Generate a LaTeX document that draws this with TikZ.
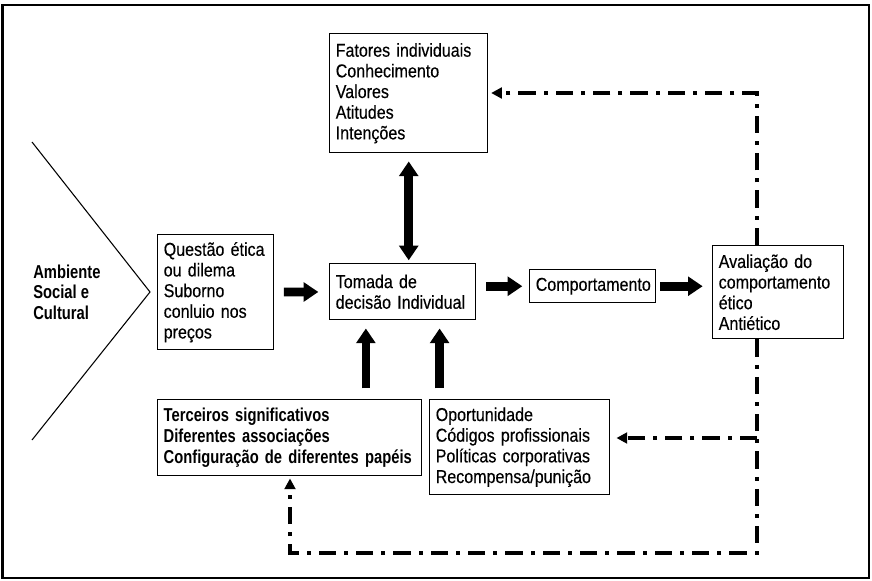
\documentclass[tikz,border=0pt]{standalone}
\usepackage{fontspec}
\setmainfont{Liberation Sans}[FakeStretch=0.86,FakeBold=0.3,BoldFeatures={FakeStretch=0.79,FakeBold=0}]
\usetikzlibrary{arrows.meta,calc}
\hyphenpenalty=10000

\tikzset{
  caixa/.style={draw, line width=1.1pt, anchor=north west, align=left, inner xsep=4.5pt, inner ysep=2pt,
    font=\fontsize{14}{15.5}\selectfont},
  setagrossa/.style={line width=6.5pt, -{Triangle[length=11pt,width=14pt]}},
  setadupla/.style={line width=6.5pt, {Triangle[length=11pt,width=14pt]}-{Triangle[length=11pt,width=14pt]}},
  tracoponto/.style={line width=2.6pt, dash pattern=on 13pt off 6pt on 3pt off 6pt, -{Triangle[length=8pt,width=8pt]}},
}

\begin{document}
\begin{tikzpicture}[x=0.75pt,y=-0.75pt]
\useasboundingbox (0,0) rectangle (872,581);
\draw[line width=2.2pt] (2.5,5) rectangle (869,578);
% ambiente
\draw[line width=0.8pt] (32,142) -- (150,292) -- (32,440);
\node[anchor=west, align=left, inner sep=0pt, font=\fontsize{14}{15.5}\selectfont\bfseries] (ambiente) at (33,292) {Ambiente\\Social e\\Cultural};
% caixas
\node[caixa, text width=109.5pt, minimum height=89.25pt] (fatores) at (329,33) {Fatores individuais\\Conhecimento\\Valores\\Atitudes\\Intenções};
\node[caixa, text width=78pt, minimum height=86.25pt] (questao) at (157,234) {Questão ética\\ou dilema\\Suborno\\conluio nos\\preços};
\node[caixa, text width=100.5pt, minimum height=42pt] (tomada) at (329,263) {Tomada de\\decisão Individual};
\node[caixa, text width=85.5pt, minimum height=24.75pt] (comport) at (529,269) {Comportamento};
\node[caixa, text width=89.25pt, minimum height=69.75pt] (aval) at (712,245) {Avaliação do\\comportamento\\ético\\Antiético};
\node[caixa, text width=189pt, minimum height=57pt, font=\fontsize{14}{15.5}\selectfont\bfseries] (terceiros) at (157,399) {Terceiros significativos\\Diferentes associações\\Configuração de diferentes papéis};
\node[caixa, text width=126pt, minimum height=71.25pt] (oport) at (429,399) {Oportunidade\\Códigos profissionais\\Políticas corporativas\\Recompensa/punição};
% setas grossas
\draw[setagrossa, shorten <=7pt, shorten >=8pt] (questao) -- (tomada);
\draw[setagrossa, shorten <=7.5pt, shorten >=5pt] (tomada.east |- comport) -- (comport.west);
\draw[setagrossa, shorten <=3pt, shorten >=7pt] (comport.east) -- (comport.east -| aval.west);
\draw[setadupla, shorten <=6pt, shorten >=2pt] (fatores.south) -- (fatores.south |- tomada.north);
\coordinate (pe1) at ($(tomada.south west)!.25!(tomada.south east)$);
\coordinate (pe2) at ($(tomada.south west)!.75!(tomada.south east)$);
\draw[setagrossa, shorten <=8pt, shorten >=6pt] (pe1 |- terceiros.north) -- (pe1);
\draw[setagrossa, shorten <=8pt, shorten >=6pt] (pe2 |- oport.north) -- (pe2);
% retorno
\coordinate (cantoA) at (757,93);
\coordinate (cantoB) at (757,553);
\coordinate (cantoC) at (290,553);
\coordinate (ramo) at (757,438);
\draw[tracoponto, shorten >=2pt] (aval.north -| cantoA) -- (cantoA) -- (cantoA -| fatores.east);
\draw[tracoponto, shorten >=1.5pt] (aval.south -| cantoB) -- (cantoB) -- (cantoC) -- (cantoC |- terceiros.south);
\draw[tracoponto, shorten >=4.5pt] (ramo) -- (ramo -| oport.east);
\end{tikzpicture}
\end{document}
